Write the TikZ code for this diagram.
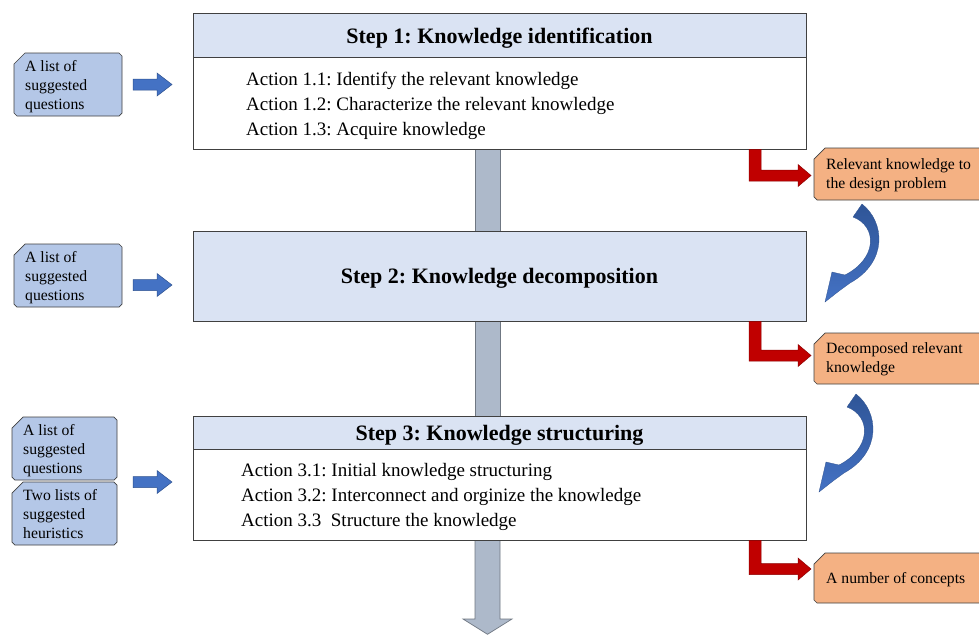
\documentclass[tikz,border=0pt]{standalone}
\usepackage{fontspec}
\setmainfont{Liberation Serif}
\frenchspacing
\definecolor{hdr}{HTML}{DAE3F3}
\definecolor{lbox}{HTML}{B4C7E7}
\definecolor{obox}{HTML}{F4B183}
\definecolor{garrow}{HTML}{ADB9CA}
\definecolor{gedge}{HTML}{6F7782}
\definecolor{rarrow}{HTML}{C00000}
\definecolor{redge}{HTML}{8E0000}
\definecolor{barrow}{HTML}{4472C4}
\definecolor{bedge}{HTML}{2F528F}
\definecolor{bdark}{HTML}{2F5597}
\definecolor{edge}{HTML}{404040}
\tikzset{
  boxline/.style={draw=edge, line width=0.8pt},
  stepbox/.style={draw=edge, line width=0.8pt, inner sep=0pt, anchor=north west, minimum width=613pt},
  titletext/.style={font=\fontsize{22}{26}\selectfont\bfseries, inner sep=0pt, anchor=base},
  acttext/.style={font=\fontsize{19}{25}\selectfont, inner sep=0pt, anchor=north west, align=left},
  smalltext/.style={font=\fontsize{15.7}{19}\selectfont, inner sep=0pt, anchor=north west, align=left},
  grayarrow/.style={fill=garrow, draw=gedge, line width=0.7pt},
  redarr/.style={fill=rarrow, draw=redge, line width=0.5pt},
  bluearr/.style={fill=barrow, draw=bedge, line width=0.5pt},
  snipline/.style={draw=edge, line width=0.7pt},
}
\newcommand\snipbox[5]{%
  \path[snipline, fill=#5] (#1,#2+11)--(#1+11,#2)--(#3-3,#2)--(#3,#2+3)--(#3,#4-3)--(#3-3,#4)--(#1+3,#4)--(#1,#4-3)--cycle;}
\newcommand\orangebox[2]{%
  \path[snipline, fill=obox] (814,#1+11)--(825,#1)--(983,#1)--(983,#2)--(817,#2)--(814,#2-3)--cycle;}
\newcommand\redarrow[2]{%
  \path[redarr] (749,#1)--(749,#2+5.5)--(798,#2+5.5)--(798,#2+11)--(811,#2)--(798,#2-11)--(798,#2-5.5)--(761,#2-5.5)--(761,#1)--cycle;}
\newcommand\bluearrow[1]{%
  \path[bluearr] (133,#1-5.5)--(157,#1-5.5)--(157,#1-11.5)--(172,#1)--(157,#1+11.5)--(157,#1+5.5)--(133,#1+5.5)--cycle;}
\newcommand\curvedarrow[2]{%
  \begin{scope}[shift={(#1,#2)}]
  \shade[top color=bdark, bottom color=barrow, draw=bedge, line width=0.3pt]
    (862,204) .. controls (885,222) and (888,262) .. (850,283)
    -- (839,291) -- (825,302) -- (832,272) -- (845,275)
    .. controls (878,258) and (877,226) .. (853,217) -- cycle;
  \end{scope}}
\begin{document}
\begin{tikzpicture}[x=1pt,y=-1pt]
\useasboundingbox (0,0) rectangle (979,635);
\fill[white] (0,0) rectangle (979,635);

% gray connecting arrows
\path[grayarrow] (475,149) rectangle (500,231);
\path[grayarrow] (475,321) rectangle (500,416);
\path[grayarrow] (475,540)--(475,619)--(463,619)--(487.5,634.3)--(512,619)--(500,619)--(500,540)--cycle;

% Step 1
\node[stepbox, minimum height=136pt, fill=white] (s1) at (193,13) {};
\fill[hdr] (193,13) rectangle (806,57);
\draw[boxline] (193,13) rectangle (806,149);
\draw[boxline] (193,57) -- (806,57);
\node[titletext] (t1) at (499.5,43) {Step 1: Knowledge identification};
\node[acttext] (a1) at (246,67.5) {\strut Action 1.1: Identify the relevant knowledge\\
\strut Action 1.2: Characterize the relevant knowledge\\
\strut Action 1.3: Acquire knowledge};

% Step 2
\node[stepbox, minimum height=90pt, fill=hdr] (s2) at (193,231) {};
\node[titletext] (t2) at (499.5,283) {Step 2: Knowledge decomposition};

% Step 3
\node[stepbox, minimum height=124pt, fill=white] (s3) at (193,416) {};
\fill[hdr] (193,416) rectangle (806,449);
\draw[boxline] (193,416) rectangle (806,540);
\draw[boxline] (193,449) -- (806,449);
\node[titletext] (t3) at (499.5,440) {Step 3: Knowledge structuring};
\node[acttext] (a3) at (241,459) {\strut Action 3.1: Initial knowledge structuring\\
\strut Action 3.2: Interconnect and orginize the knowledge\\
\strut Action 3.3\ \ Structure the knowledge};

% left inputs
\snipbox{14}{53}{122}{116}{lbox}
\node[smalltext] (q1) at (25,57.7) {\strut A list of\\ \strut suggested\\ \strut questions};
\snipbox{14}{244}{122}{307}{lbox}
\node[smalltext] (q2) at (25,248.7) {\strut A list of\\ \strut suggested\\ \strut questions};
\snipbox{12}{417}{117}{480}{lbox}
\node[smalltext] (q3) at (23,421.7) {\strut A list of\\ \strut suggested\\ \strut questions};
\snipbox{12}{482}{117}{545}{lbox}
\node[smalltext] (h3) at (23,486.7) {\strut Two lists of\\ \strut suggested\\ \strut heuristics};

\bluearrow{84.5}
\bluearrow{285}
\bluearrow{482}

% outputs
\redarrow{149.4}{175.5}
\redarrow{321.4}{355.5}
\redarrow{540.4}{569}

\orangebox{148}{200}
\node[smalltext] (o1) at (826,156.2) {\strut Relevant knowledge to\\ \strut the design problem};
\orangebox{333}{384}
\node[smalltext] (o2) at (826,340.2) {\strut Decomposed relevant\\ \strut knowledge};
\orangebox{553}{603}
\node[smalltext] (o3) at (826,570.2) {\strut A number of concepts};

\curvedarrow{0}{0}
\curvedarrow{-6}{190}
\end{tikzpicture}
\end{document}
